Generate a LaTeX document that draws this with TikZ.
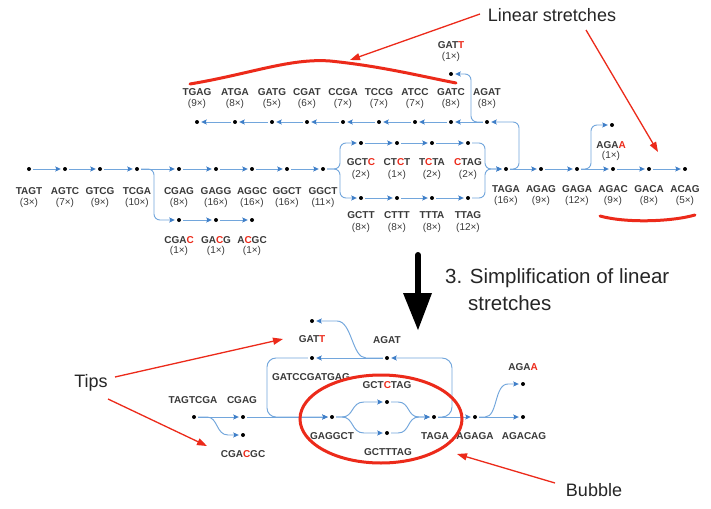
\documentclass[tikz,border=0pt]{standalone}
\usepackage{fontspec}
\setmainfont{Liberation Sans}
\usetikzlibrary{arrows.meta}
\definecolor{eblue}{HTML}{72A6DC}
\definecolor{ablue}{HTML}{3F7FC8}
\definecolor{txt}{HTML}{3A3A3A}
\definecolor{ared}{HTML}{EC2A1A}
\newcommand\redch[1]{\textcolor{ared}{#1}}
\newcommand\seqlab[6]{%
  \node[nm] (#1n) at (#2,#3) {#5};
  \node[ct] (#1c) at (#2,#4) {(#6×)};}
\tikzset{
  dot/.style={circle,fill=black,inner sep=0pt,minimum size=4pt,outer sep=2.2pt},
  edge/.style={draw=eblue,line width=0.95pt,rounded corners=6pt,
    -{Stealth[length=5.5pt,width=5pt,inset=1pt,color=ablue]}},
  nm/.style={font=\fontsize{10}{11}\selectfont\bfseries,text=txt,inner sep=0pt},
  ct/.style={font=\fontsize{10}{11}\selectfont,text=txt,inner sep=0pt},
  bnm/.style={font=\fontsize{10}{11}\selectfont\bfseries,text=txt,inner sep=0pt},
  ann/.style={font=\fontsize{18}{20}\selectfont,text=black!85,inner sep=0pt},
  bigann/.style={font=\fontsize{20.5}{22}\selectfont,text=black!85,inner sep=0pt},
  redarrow/.style={draw=ared,line width=1.3pt,-{Triangle[length=10pt,width=7pt]}},
  redline/.style={draw=ared,line width=3pt,line cap=round},
}
\begin{document}
\begin{tikzpicture}[x=1pt,y=-1pt]
\useasboundingbox (0,0) rectangle (711,508);
\fill[white] (0,0) rectangle (711,508);

% ================= TOP GRAPH =================
% upper row (left-going)
\foreach \n/\x in {tgag/197,atga/235,gatg/272,cgat/307,ccga/343,tccg/379,atcc/415,gatc/451,agat/487}
  \node[dot] (\n) at (\x,122) {};
\node[dot] (gatt) at (451,74) {};
% main row
\foreach \n/\x in {tagt/29,agtc/65,gtcg/100,tcga/137,cgag/179,gagg/216,aggc/252,ggcta/287,ggctb/323,
  taga/506,agag/541,gaga/577,agac/613,gaca/649,acag/685}
  \node[dot] (\n) at (\x,169) {};
% lower-left branch
\foreach \n/\x in {cgac/179,gacg/216,acgc/252}
  \node[dot] (\n) at (\x,220) {};
% bubble rows
\foreach \n/\x in {gctc/361,ctct/397,tcta/432,ctag/468}
  \node[dot] (\n) at (\x,143) {};
\foreach \n/\x in {gctt/361,cttt/397,ttta/432,ttag/468}
  \node[dot] (\n) at (\x,198) {};
\node[dot] (agaa) at (612,125) {};

% straight edges
\foreach \a/\b in {tagt/agtc,agtc/gtcg,gtcg/tcga,tcga/cgag,cgag/gagg,gagg/aggc,aggc/ggcta,ggcta/ggctb,
  cgac/gacg,gacg/acgc,gctc/ctct,ctct/tcta,tcta/ctag,gctt/cttt,cttt/ttta,ttta/ttag,
  taga/agag,agag/gaga,gaga/agac,agac/gaca,gaca/acag,
  agat/gatc,gatc/atcc,atcc/tccg,tccg/ccga,ccga/cgat,cgat/gatg,gatg/atga,atga/tgag}
  \draw[edge] (\a) -- (\b);
% bent edges
\draw[edge] (tcga) -- (154,169) -- (154,220) -- (cgac);
\draw[edge] (ggctb) -- (340,169) -- (340,143) -- (gctc);
\draw[edge] (ggctb) -- (340,169) -- (340,198) -- (gctt);
\draw[edge] (ctag) -- (485,143) -- (485,169) -- (taga);
\draw[edge] (ttag) -- (485,198) -- (485,169) -- (taga);
\draw[edge] (taga) -- (519,169) -- (519,122) -- (agat);
\draw[edge] (agat) -- (471,122) -- (471,74) -- (gatt);
\draw[edge] (gaga) -- (591,169) -- (591,125) -- (agaa);

% labels
\seqlab{ltgag}{197}{92}{104}{TGAG}{9}
\seqlab{latga}{235}{92}{104}{ATGA}{8}
\seqlab{lgatg}{272}{92}{104}{GATG}{5}
\seqlab{lcgat}{307}{92}{104}{CGAT}{6}
\seqlab{lccga}{343}{92}{104}{CCGA}{7}
\seqlab{ltccg}{379}{92}{104}{TCCG}{7}
\seqlab{latcc}{415}{92}{104}{ATCC}{7}
\seqlab{lgatc}{451}{92}{104}{GATC}{8}
\seqlab{lagat}{487}{92}{104}{AGAT}{8}
\seqlab{lgatt}{451}{45}{57}{GAT\redch{T}}{1}
\seqlab{ltagt}{29}{191}{203}{TAGT}{3}
\seqlab{lagtc}{65}{191}{203}{AGTC}{7}
\seqlab{lgtcg}{100}{191}{203}{GTCG}{9}
\seqlab{ltcga}{137}{191}{203}{TCGA}{10}
\seqlab{lcgag}{179}{191}{203}{CGAG}{8}
\seqlab{lgagg}{216}{191}{203}{GAGG}{16}
\seqlab{laggc}{252}{191}{203}{AGGC}{16}
\seqlab{lggcta}{287}{191}{203}{GGCT}{16}
\seqlab{lggctb}{323}{191}{203}{GGCT}{11}
\seqlab{lcgac}{179}{240}{251}{CGA\redch{C}}{1}
\seqlab{lgacg}{216}{240}{251}{GA\redch{C}G}{1}
\seqlab{lacgc}{252}{240}{251}{A\redch{C}GC}{1}
\seqlab{lgctc}{361}{162}{175}{GCT\redch{C}}{2}
\seqlab{lctct}{397}{162}{175}{CT\redch{C}T}{1}
\seqlab{ltcta}{432}{162}{175}{T\redch{C}TA}{2}
\seqlab{lctag}{468}{162}{175}{\redch{C}TAG}{2}
\seqlab{lgctt}{361}{215}{228}{GCTT}{8}
\seqlab{lcttt}{397}{215}{228}{CTTT}{8}
\seqlab{lttta}{432}{215}{228}{TTTA}{8}
\seqlab{lttag}{468}{215}{228}{TTAG}{12}
\seqlab{ltaga}{506}{189}{201}{TAGA}{16}
\seqlab{lagag}{541}{189}{201}{AGAG}{9}
\seqlab{lgaga}{577}{189}{201}{GAGA}{12}
\seqlab{lagac}{613}{189}{201}{AGAC}{9}
\seqlab{lgaca}{649}{189}{201}{GACA}{8}
\seqlab{lacag}{685}{189}{201}{ACAG}{5}
\seqlab{lagaa}{611}{145}{156}{AGA\redch{A}}{1}

% red annotations (top)
\node[ann] (linstr) at (552,15) {Linear stretches};
\coordinate (ls1) at (480,14);
\coordinate (ls2) at (350,60);
\coordinate (ls3) at (586,30);
\coordinate (ls4) at (658,152);
\draw[redarrow] (ls1) -- (ls2);
\draw[redarrow] (ls3) -- (ls4);
\draw[redline] (190,84) .. controls (250,74) and (290,58) .. (330,61) .. controls (380,66) and (420,76) .. (456,83);
\draw[redline] (600,216) .. controls (625,223) and (670,222) .. (695,215);

% big arrow
\draw[line width=6pt,line cap=round] (418,255) -- (418,296);
\fill (403,293) -- (432,293) -- (418,330) -- cycle;
\node[bigann,anchor=west] (simp1) at (445,278) {3. Simplification of linear};
\node[bigann,anchor=west] (simp2) at (468,303) {stretches};

% ================= BOTTOM GRAPH =================
\node[dot] (tagtcga) at (194,417) {};
\node[dot] (bcgag) at (243,417) {};
\node[dot] (cgacgc) at (243,435) {};
\node[dot] (gaggct) at (332,417) {};
\node[dot] (gctctag) at (387,402) {};
\node[dot] (gcttag) at (387,433) {};
\node[dot] (btaga) at (434,417) {};
\node[dot] (agaga) at (475,417) {};
\node[dot] (agacag) at (523,417) {};
\node[dot] (bagaa) at (523,384) {};
\node[dot] (bagat) at (387,358) {};
\node[dot] (gatccg) at (312,358) {};
\node[dot] (bgatt) at (312,321) {};

\draw[edge] (tagtcga) -- (bcgag);
\draw[edge,rounded corners=0pt] (tagtcga) -- (207,417) .. controls (218,417) and (216,435) .. (228,435) -- (cgacgc);
\draw[edge] (bcgag) -- (gaggct);
\draw[edge,rounded corners=9pt] (gatccg) -- (267,358) -- (267,417) -- (gaggct);
\draw[edge,rounded corners=0pt] (gaggct) -- (342,417) .. controls (354,417) and (351,402) .. (364,402) -- (gctctag);
\draw[edge,rounded corners=0pt] (gaggct) -- (342,417) .. controls (354,417) and (351,433) .. (364,433) -- (gcttag);
\draw[edge,rounded corners=0pt] (gctctag) -- (398,402) .. controls (410,402) and (407,417) .. (419,417) -- (btaga);
\draw[edge,rounded corners=0pt] (gcttag) -- (398,433) .. controls (410,433) and (407,417) .. (419,417) -- (btaga);
\draw[edge] (btaga) -- (agaga);
\draw[edge,rounded corners=10pt] (btaga) -- (452,417) -- (452,358) -- (bagat);
\draw[edge] (bagat) -- (gatccg);
\draw[edge,rounded corners=0pt] (bagat) -- (366,358) .. controls (352,358) and (352,321) .. (337,321) -- (bgatt);
\draw[edge] (agaga) -- (agacag);
\draw[edge,rounded corners=0pt] (agaga) -- (485,417) .. controls (498,417) and (494,384) .. (508,384) -- (bagaa);

\node[bnm] (lbgatt) at (312,339) {GAT\redch{T}};
\node[bnm] (lbagat) at (387,340) {AGAT};
\node[bnm] (lbgatcc) at (311,377) {GATCCGATGAG};
\node[bnm] (lbgctctag) at (387,385) {GCT\redch{C}TAG};
\node[bnm] (lbtagtcga) at (193,400) {TAGTCGA};
\node[bnm] (lbcgag) at (242,400) {CGAG};
\node[bnm] (lbgaggct) at (332,436) {GAGGCT};
\node[bnm] (lbgcttag) at (388,452) {GCTTTAG};
\node[bnm] (lbtaga) at (435,436) {TAGA};
\node[bnm] (lbagaga) at (475,436) {AGAGA};
\node[bnm] (lbagacag) at (524,436) {AGACAG};
\node[bnm] (lbagaa) at (523,367) {AGA\redch{A}};
\node[bnm] (lbcgacgc) at (243,454) {CGA\redch{C}GC};

% red annotations (bottom)
\draw[draw=ared,line width=3pt] (381,419) ellipse [x radius=81pt,y radius=44pt];
\node[ann] (tips) at (91,383) {Tips};
\node[ann] (bubble) at (594,490) {Bubble};
\coordinate (tp1) at (115,377);
\coordinate (tp2) at (283,339);
\coordinate (tp3) at (108,399);
\coordinate (tp4) at (207,446);
\coordinate (bb1) at (555,483);
\coordinate (bb2) at (457,454);
\draw[redarrow] (tp1) -- (tp2);
\draw[redarrow] (tp3) -- (tp4);
\draw[redarrow] (bb1) -- (bb2);
\end{tikzpicture}
\end{document}
